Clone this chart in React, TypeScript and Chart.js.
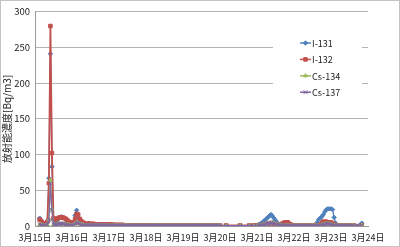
import React, { useEffect, useRef } from 'react';
import { Chart, registerables } from 'chart.js';
import { drawPoint } from 'chart.js/helpers';
Chart.register(...registerables);

const dayLabels = ['3月15日', '3月16日', '3月17日', '3月18日', '3月19日', '3月20日', '3月21日', '3月22日', '3月23日', '3月24日'];
const seriesNames = ['I-131', 'I-132', 'Cs-134', 'Cs-137'];
const seriesColors = ['#4F81BD', '#C0504D', '#9BBB59', '#8064A2'];
const yTitle = '放射能濃度[Bq/m3]';

// hours since 3/15 00:00
const hours = [
  3, 4, 5, 6, 7, 8, 9, 10, 11, 12, 13, 14, 15, 16, 17, 18, 19, 20, 21, 22, 23,
  24, 25, 26, 27, 28, 29, 30, 31, 32, 33, 34, 35, 36, 37, 38, 39, 40, 41, 42, 43, 44, 45, 46, 47,
  48, 49, 50, 51, 52, 53, 54, 55, 56, 57, 58, 59, 60, 61, 62, 63, 64, 65, 66, 67, 68, 69, 70, 71,
  72, 73, 74, 75, 76, 77, 78, 79, 80, 81, 82, 83, 84, 85, 86, 87, 88, 89, 90, 91, 92, 93, 94, 95,
  96, 97, 98, 99, 100, 101, 102, 103, 104, 105, 106, 107, 108, 109, 110, 111, 112, 113, 114, 115, 116, 117, 118, 119,
  120, 124, 133, 139, 142,
  144, 145, 146, 147, 148, 149, 150, 151, 152, 153, 154, 155, 156, 157, 158, 159, 160, 161, 162, 163, 164, 165, 166, 167,
  168, 169, 170, 171, 172, 173, 174, 175, 176, 177, 178, 179, 180, 181, 182, 183, 184, 185, 186, 187, 188, 189, 190, 191,
  192, 193, 194, 195, 196, 197, 198, 199, 200, 201, 202, 203, 204, 205, 206, 207,
  212,
];

const i131 = [
  11, 8, 4, 2, 2, 5, 67, 241, 83, 8, 6, 7, 10, 11, 13, 12, 11, 9, 6, 5, 4,
  4, 6, 15, 22, 12, 8, 5, 4, 3, 3, 2, 4, 2, 2, 1, 1, 1, 1, 1, 1, 1, 1, 1, 1,
  1, 1, 1, 1, 1, 1, 1, 1, 1, 1, 1, 1, 0.5, 0.5, 0.5, 0.5, 0.5, 0.5, 0.5, 0.5, 0.5, 0.5, 0.5, 0.5,
  0.5, 0.5, 0.5, 0.5, 0.5, 0.5, 0.5, 0.5, 0.5, 0.5, 0.5, 0.5, 0.5, 0.5, 0.5, 0.5, 0.5, 0.5, 0.5, 0.5, 0.5, 0.5, 0.5, 0.5,
  0.5, 0.5, 0.5, 0.5, 0.5, 0.5, 0.5, 0.5, 0.5, 0.5, 0.5, 0.5, 0.5, 0.5, 0.5, 0.5, 0.5, 0.5, 0.5, 0.5, 0.5, 0.5, 0.5, 0.5,
  0.5, 0.5, 0.5, 0.5, 1,
  1, 2, 3, 4, 6, 8, 10, 12, 14, 16, 14, 11, 8, 5, 3, 2, 1.5, 1, 1, 1, 0.5, 0.5, 0.5, 0.5,
  0.5, 0.5, 0.5, 0.5, 0.5, 0.5, 0.5, 0.5, 0.5, 0.5, 0.5, 0.5, 0.5, 0.5, 1, 5, 9, 11, 13, 16, 20, 23, 24, 24,
  24, 23, 12, 4, 1, 0.5, 0.5, 0.5, 0.5, 0.5, 0.5, 0.5, 0.5, 0.5, 0.5, 0.5,
  4,
];

const i132 = [
  9, 7, 4, 3, 3, 6, 60, 280, 102, 11, 9, 10, 11, 12, 12, 12, 11, 10, 8, 6, 5,
  4, 5, 10, 17, 16, 10, 7, 5, 4, 3, 3, 3, 3, 3, 3, 2, 2, 2, 2, 2, 2, 2, 2, 2,
  2, 2, 2, 1.5, 1.5, 1.5, 1.5, 1.5, 1.5, 1.5, 1, 1, 1, 1, 1, 1, 1, 1, 1, 1, 1, 1, 1, 1,
  0.8, 0.8, 0.8, 0.8, 0.6, 0.6, 0.6, 0.6, 0.6, 0.6, 0.6, 0.6, 0.6, 0.6, 0.6, 0.6, 0.6, 0.6, 0.6, 0.6, 0.6, 0.6, 0.6, 0.6,
  0.6, 0.6, 0.6, 0.6, 0.6, 0.6, 0.6, 0.6, 0.6, 0.6, 0.6, 0.6, 0.6, 0.6, 0.6, 0.6, 0.6, 0.6, 0.6, 0.6, 0.6, 0.6, 0.6, 0.6,
  0.6, 0.8, 0.8, 0.8, 1,
  1, 1, 1, 1, 2, 2, 3, 3, 4, 4, 4, 3, 3, 2, 2, 2, 3, 4, 5, 5, 5, 3, 2, 1,
  0.8, 0.6, 0.6, 0.6, 0.6, 0.6, 0.6, 0.6, 0.6, 0.6, 0.6, 0.6, 0.8, 0.8, 1, 1, 1, 2, 4, 6, 6, 6, 5, 5,
  5, 4, 2, 1, 0.8, 0.6, 0.6, 0.6, 0.6, 0.6, 0.6, 0.6, 0.6, 0.6, 0.6, 0.6,
  1,
];

const cs134 = [
  2, 2, 1, 1, 1, 2, 9, 64, 24, 2, 2, 2, 3, 3, 3, 3, 3, 2, 2, 2, 1,
  1, 1, 3, 5, 4, 3, 2, 2, 1, 1, 1, 1, 1, 1, 1, 1, 1, 1, 1, 1, 1, 1, 1, 1,
  0.5, 0.5, 0.5, 0.5, 0.5, 0.5, 0.5, 0.5, 0.5, 0.5, 0.5, 0.5, 0.3, 0.3, 0.3, 0.3, 0.3, 0.3, 0.3, 0.3, 0.3, 0.3, 0.3, 0.3,
  0.3, 0.3, 0.3, 0.3, 0.3, 0.3, 0.3, 0.3, 1, 0.3, 0.3, 0.3, 0.3, 0.3, 0.3, 0.3, 0.3, 0.3, 0.3, 0.3, 0.3, 0.3, 0.3, 0.3,
  0.3, 0.3, 0.3, 0.3, 0.3, 0.3, 0.3, 0.3, 0.3, 0.3, 0.3, 0.3, 0.3, 0.3, 0.3, 0.3, 0.3, 0.3, 0.3, 0.3, 0.3, 0.3, 0.3, 0.3,
  0.3, 0.3, 0.3, 0.3, 0.3,
  0.3, 0.5, 1, 1, 2, 2, 3, 3, 4, 4, 5, 4, 3, 3, 2, 2, 1, 1, 1, 1, 1, 0.5, 0.5, 0.3,
  0.3, 0.3, 0.3, 0.3, 0.3, 0.3, 0.3, 0.3, 0.3, 0.3, 0.3, 0.3, 0.3, 0.3, 0.3, 0.3, 0.3, 1, 2, 2, 3, 3, 3, 3,
  2, 2, 1, 0.5, 0.3, 0.3, 0.3, 0.3, 0.3, 0.3, 0.3, 0.3, 0.3, 0.3, 0.3, 0.3,
  1,
];

const cs137 = [
  2, 1, 1, 1, 1, 2, 8, 60, 22, 2, 2, 2, 3, 3, 3, 3, 3, 2, 2, 1, 1,
  1, 1, 3, 4, 4, 3, 2, 1, 1, 1, 1, 1, 1, 1, 1, 1, 1, 1, 1, 1, 1, 1, 1, 1,
  0.5, 0.5, 0.5, 0.5, 0.5, 0.5, 0.5, 0.5, 0.5, 0.5, 0.5, 0.5, 0.4, 0.4, 0.4, 0.4, 0.4, 0.4, 0.4, 0.4, 0.4, 0.4, 0.4, 0.4,
  0.4, 0.4, 0.4, 0.4, 0.4, 0.4, 0.4, 0.4, 0.4, 0.4, 0.4, 0.4, 0.4, 0.4, 0.4, 0.4, 0.4, 0.4, 0.4, 0.4, 0.4, 0.4, 0.4, 0.4,
  0.4, 0.4, 0.4, 0.4, 0.4, 0.4, 0.4, 0.4, 0.4, 0.4, 0.4, 0.4, 0.4, 0.4, 0.4, 0.4, 0.4, 0.4, 0.4, 0.4, 0.4, 0.4, 0.4, 0.4,
  0.4, 0.4, 0.4, 0.4, 0.4,
  0.3, 0.5, 1, 1, 2, 2, 3, 3, 4, 4, 4, 4, 3, 2, 2, 2, 1, 1, 1, 1, 0.5, 0.5, 0.5, 0.3,
  0.3, 0.3, 0.3, 0.3, 0.3, 0.3, 0.3, 0.3, 0.3, 0.3, 0.3, 0.3, 0.3, 0.3, 0.3, 0.3, 0.3, 1, 2, 2, 2, 3, 3, 3,
  2, 2, 1, 0.5, 0.3, 0.3, 0.3, 0.3, 0.3, 0.3, 0.3, 0.3, 0.3, 0.3, 0.3, 0.3,
  1,
];

const seriesValues = [i131, i132, cs134, cs137];
const pointStyles = ['rectRot', 'rect', 'triangle', 'crossRot'];
const pointRadii = [2.2, 2.5, 2.2, 2.8];

const FONT = '"Noto Sans CJK JP", "Noto Sans", sans-serif';

const legendPlugin = {
  id: 'boxLegend',
  afterDraw(chart: any) {
    const ctx = chart.ctx;
    ctx.save();
    ctx.fillStyle = '#ffffff';
    ctx.fillRect(272, 30, 89, 74);
    chart.data.datasets.forEach((ds: any, i: number) => {
      const y = 42 + i * 16.4;
      const x0 = 299;
      ctx.strokeStyle = ds.borderColor;
      ctx.lineWidth = 1.5;
      ctx.beginPath();
      ctx.moveTo(x0, y);
      ctx.lineTo(x0 + 11, y);
      ctx.stroke();
      ctx.fillStyle = ds.backgroundColor;
      ctx.strokeStyle = ds.borderColor;
      ctx.lineWidth = 1;
      drawPoint(ctx, { pointStyle: ds.pointStyle, radius: ds.pointRadius, borderWidth: 1, rotation: 0 }, x0 + 5.5, y);
      ctx.fillStyle = '#222';
      ctx.font = '9px ' + FONT;
      ctx.textBaseline = 'middle';
      ctx.textAlign = 'left';
      ctx.fillText(ds.label, x0 + 12, y + 0.5);
    });
    ctx.restore();
  },
};

export default function App() {
  const ref = useRef<HTMLCanvasElement>(null);
  useEffect(() => {
    document.body.style.margin = '0';
    const datasets = seriesNames.map((name, i) => ({
      label: name,
      data: hours.map((h, k) => ({ x: h / 24, y: seriesValues[i][k] })),
      borderColor: seriesColors[i],
      backgroundColor: seriesColors[i],
      pointStyle: pointStyles[i],
      pointRadius: pointRadii[i],
      pointBorderWidth: 1,
      borderWidth: i === 1 ? 1.8 : 1.3,
      tension: 0,
      order: 3 - i,
    }));
    const chart = new Chart(ref.current as HTMLCanvasElement, {
      type: 'line',
      data: { datasets },
      plugins: [legendPlugin],
      options: {
        animation: false,
        responsive: false,
        devicePixelRatio: 1,
        layout: { padding: { left: 0, top: 5, right: 31, bottom: 0 } },
        plugins: { legend: { display: false }, tooltip: { enabled: false } },
        scales: {
          x: {
            type: 'linear',
            min: 0,
            max: 9,
            afterFit: (s: any) => { s.height = 20; },
            afterBuildTicks: (s: any) => {
              s.ticks = dayLabels.map((_, i) => ({ value: i }));
            },
            ticks: {
              autoSkip: false,
              maxRotation: 0,
              padding: 6,
              color: '#222',
              font: { family: FONT, size: 9 },
              callback: (v: any) => dayLabels[Math.round(v)] ?? '',
            },
            grid: { display: false, drawTicks: false },
            border: { display: true, color: '#999', width: 1 },
          },
          y: {
            min: 0,
            max: 300,
            afterFit: (s: any) => { s.width = 34; },
            ticks: {
              stepSize: 50,
              padding: 5,
              color: '#222',
              font: { family: FONT, size: 9.5 },
            },
            grid: { color: '#b4b4b4', drawTicks: false, lineWidth: 1 },
            border: { display: true, color: '#999', width: 1 },
            title: {
              display: true,
              text: yTitle,
              color: '#222',
              font: { family: FONT, size: 10 },
              padding: { top: 0, bottom: 0 },
            },
          },
        },
      },
    });
    return () => chart.destroy();
  }, []);
  return (
    <div style={{ width: 400, height: 247, boxSizing: 'border-box', border: '1px solid #c4c4c4', background: '#fff' }}>
      <canvas ref={ref} width={398} height={245} style={{ display: 'block' }} />
    </div>
  );
}
